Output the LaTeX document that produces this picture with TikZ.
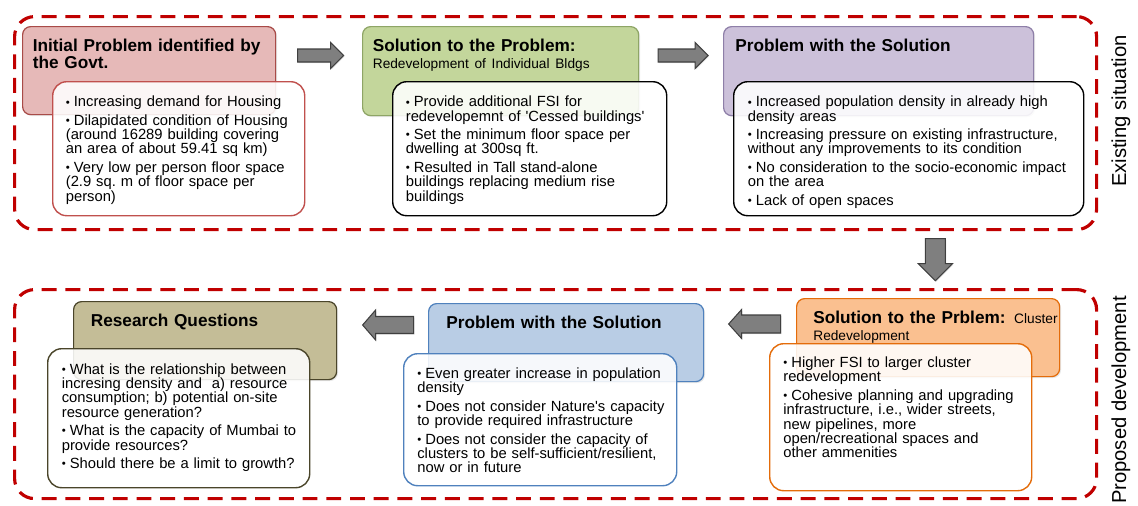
\documentclass[tikz,border=0pt]{standalone}
\usepackage{fontspec}
\setmainfont{Liberation Sans}
\usetikzlibrary{calc,shadows}

\definecolor{frred}{HTML}{C00000}
\definecolor{redfill}{HTML}{E6B9B8}
\definecolor{redline}{HTML}{A84B48}
\definecolor{redlist}{HTML}{C0504D}
\definecolor{greenfill}{HTML}{C3D69B}
\definecolor{greenline}{HTML}{8EA566}
\definecolor{purplefill}{HTML}{CCC1DA}
\definecolor{purpleline}{HTML}{8E7FA8}
\definecolor{orangefill}{HTML}{FAC090}
\definecolor{orangeline}{HTML}{E46C0A}
\definecolor{bluefill}{HTML}{B9CDE5}
\definecolor{blueline}{HTML}{4F81BD}
\definecolor{olivefill}{HTML}{C4BD97}
\definecolor{oliveline}{HTML}{4A452A}
\definecolor{arrgray}{HTML}{7F7F7F}
\definecolor{arrline}{HTML}{3F3F3F}

% bullet mark, and one bullet point with hanging indent
\newcommand{\bulmark}{\hangindent=0.16cm\hangafter=1\noindent
  \makebox[0.16cm][l]{\raisebox{0.4pt}{\fontsize{6.5}{6.5}\selectfont\textbullet}}}
\newcommand{\fbul}{\bulmark}
\newcommand{\bul}{\par\bulmark}

% block arrow: centre, angle, half length, shaft half width, head half width, head length
\newcommand{\blockarrow}[6]{%
  \draw[blockarr, shift={(#1)}, rotate=#2]
    (-#3,-#4) -- (#3-#6,-#4) -- (#3-#6,-#5) -- (#3,0) -- (#3-#6,#5)
    -- (#3-#6,#4) -- (-#3,#4) -- cycle;}

\tikzset{
  sz/.style 2 args={minimum width=#1*0.02cm, minimum height=#2*0.02cm},
  frame/.style={draw=frred, line width=1.8pt, dash pattern=on 8.5pt off 5pt,
    rounded corners=0.4cm, anchor=north west, inner sep=0pt},
  head/.style={draw, line width=0.7pt, rounded corners=0.16cm, anchor=north west,
    inner sep=0pt, drop shadow={opacity=0.2, shadow xshift=0.8pt, shadow yshift=-0.8pt}},
  list/.style={draw, fill=white, fill opacity=0.88, line width=0.8pt,
    rounded corners=0.28cm, anchor=north west, inner sep=0pt},
  headtext/.style={anchor=base west, inner sep=0pt, text width=6cm, align=left,
    font=\fontsize{9.8}{9.4}\selectfont\bfseries},
  listtext/.style={anchor=base west, inner sep=0pt, text width=8cm, align=left,
    font=\fontsize{8.4}{8.2}\selectfont,
    execute at begin node={\setlength{\parskip}{2.3pt}}},
  sidetext/.style={rotate=90, inner sep=0pt, font=\fontsize{11.5}{13}\selectfont},
  blockarr/.style={fill=arrgray, draw=arrline, line width=0.6pt,
    drop shadow={opacity=0.2, shadow xshift=0.6pt, shadow yshift=-0.6pt}},
}

\begin{document}
\begin{tikzpicture}[x=0.02cm, y=-0.02cm]
    \useasboundingbox (0,0) rectangle (1138,505);

    % dashed frames
    \node[frame, sz={1082}{213}] (existing) at (13,15) {};
    \node[frame, sz={1082}{209}] (proposed) at (13,288) {};
    \node[sidetext] (existlabel) at (1121,111) {Existing situation};
    \node[sidetext] (proplabel) at (1121,400) {Proposed development};

    % existing situation
    \node[head, sz={253}{88}, fill=redfill, draw=redline] (initprob) at (22,26) {};
    \node[head, sz={276}{89}, fill=greenfill, draw=greenline] (indsol) at (362,26) {};
    \node[head, sz={310}{89}, fill=purplefill, draw=purpleline] (indprob) at (723,26) {};

    \node[headtext] (initprobtext) at ($(initprob.north west)+(10.5,25.5)$)
        {Initial Problem identified by\\the Govt.};
    \node[headtext] (indsoltext) at ($(indsol.north west)+(10.5,25.5)$)
        {Solution to the Problem:\\\mdseries\fontsize{7.8}{8}\selectfont Redevelopment of Individual Bldgs};
    \node[headtext] (indprobtext) at ($(indprob.north west)+(12,25.5)$)
        {Problem with the Solution};

    \node[list, sz={252}{134}, draw=redlist] (initlist) at ($(initprob.north west)+(30,55)$) {};
    \node[list, sz={274}{134}, draw=black] (indsollist) at ($(indsol.north west)+(30,55)$) {};
    \node[list, sz={350}{134}, draw=black] (indproblist) at ($(indprob.north west)+(10,55)$) {};

    \node[listtext] (initlisttext) at ($(initlist.north west)+(13.5,25.7)$) {%
        \fbul Increasing demand for Housing
        \bul Dilapidated condition of Housing\\(around 16289 building covering\\an area of about 59.41 sq km)
        \bul Very low per person floor space\\(2.9 sq.\ m of floor space per\\person)};
    \node[listtext] (indsollisttext) at ($(indsollist.north west)+(13.5,25.7)$) {%
        \fbul Provide additional FSI for\\redevelopemnt of \textquotesingle Cessed buildings\textquotesingle
        \bul Set the minimum floor space per\\dwelling at 300sq ft.
        \bul Resulted in Tall stand-alone\\buildings replacing medium rise\\buildings};
    \node[listtext] (indproblisttext) at ($(indproblist.north west)+(14.5,25.7)$) {%
        \fbul Increased population density in already high\\density areas
        \bul Increasing pressure on existing infrastructure,\\without any improvements to its condition
        \bul No consideration to the socio-economic impact\\on the area
        \bul Lack of open spaces};

    % proposed development
    \node[head, sz={263}{78}, fill=orangefill, draw=orangeline] (clusol) at (796,298) {};
    \node[head, sz={275}{78}, fill=bluefill, draw=blueline] (cluprob) at (428,303) {};
    \node[head, sz={263}{78}, fill=olivefill, draw=oliveline] (resq) at (73,301) {};

    \node[headtext] (clusoltext) at ($(clusol.north west)+(17,25.5)$)
        {Solution to the Prblem: \mdseries\fontsize{7.8}{8}\selectfont Cluster\\Redevelopment};
    \node[headtext] (cluprobtext) at ($(cluprob.north west)+(18,25.5)$)
        {Problem with the Solution};
    \node[headtext] (resqtext) at ($(resq.north west)+(17.5,25.5)$)
        {Research Questions};

    \node[list, sz={262}{147}, draw=orangeline] (clulist) at ($(clusol.north west)+(-27,45)$) {};
    \node[list, sz={273}{132}, draw=blueline] (cluproblist) at ($(cluprob.north west)+(-25,50)$) {};
    \node[list, sz={262}{139}, draw=oliveline] (resqlist) at ($(resq.north west)+(-26,47)$) {};

    \node[listtext] (clulisttext) at ($(clulist.north west)+(14,24.5)$) {%
        \fbul Higher FSI to larger cluster\\redevelopment
        \bul Cohesive planning and upgrading\\infrastructure, i.e., wider streets,\\new pipelines, more\\open/recreational spaces and\\other ammenities};
    \node[listtext] (cluproblisttext) at ($(cluproblist.north west)+(14,25.3)$) {%
        \fbul Even greater increase in population\\density
        \bul Does not consider Nature\textquotesingle s capacity\\to provide required infrastructure
        \bul Does not consider the capacity of\\clusters to be self-sufficient/resilient,\\now or in future};
    \node[listtext] (resqlisttext) at ($(resqlist.north west)+(14.5,26)$) {%
        \fbul What is the relationship between\\incresing density and\ \ a) resource\\consumption; b) potential on-site\\resource generation?
        \bul What is the capacity of Mumbai to\\provide resources?
        \bul Should there be a limit to growth?};

    % arrows between the steps
    \blockarrow{$(initprob.north east)!0.5!(indsol.north west)+(1.5,29.5)$}{0}{23}{6.5}{13}{13}
    \blockarrow{$(indsol.north east)!0.5!(indprob.north west)+(2,29.5)$}{0}{25}{6.5}{13}{13}
    \blockarrow{$(indproblist.south)!0.5!(clusol.north)+(17,2.5)$}{-90}{21}{10}{17}{17}
    \blockarrow{$(cluprob.north east)!0.5!(clusol.north west)+(4.5,23.5)$}{180}{26}{9}{14.5}{13}
    \blockarrow{$(resq.north east)!0.5!(cluprob.north west)+(5.5,23)$}{180}{25.5}{8.5}{15}{13}
\end{tikzpicture}
\end{document}
